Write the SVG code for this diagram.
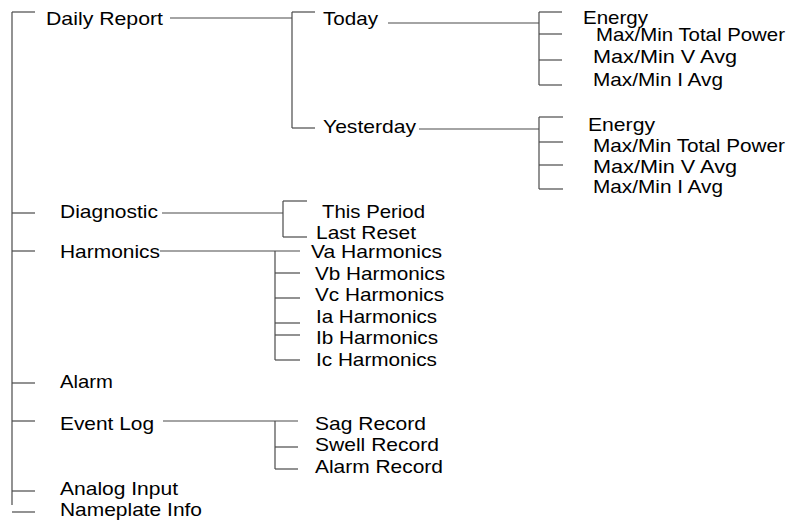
<svg xmlns="http://www.w3.org/2000/svg" width="797" height="526" viewBox="0 0 797 526">
<style>
text{font-family:"Liberation Sans",Arial,sans-serif;font-size:18.5px;fill:#000}
.c line{stroke:#4a4a4a;stroke-width:1.2;fill:none}
</style>
<rect width="797" height="526" fill="#fff"/>
<g class="c" id="connectors">
<line x1="12" y1="12" x2="12" y2="505"/>
<line x1="12" y1="12" x2="35" y2="12"/>
<line x1="12" y1="213" x2="35" y2="213"/>
<line x1="12" y1="251" x2="35" y2="251"/>
<line x1="12" y1="383" x2="35" y2="383"/>
<line x1="12" y1="421" x2="35" y2="421"/>
<line x1="12" y1="491" x2="35" y2="491"/>
<line x1="12" y1="512" x2="35" y2="512"/>
<line x1="170" y1="18" x2="292" y2="18"/>
<line x1="292" y1="12" x2="292" y2="128"/>
<line x1="292" y1="12" x2="315" y2="12"/>
<line x1="292" y1="128" x2="315" y2="128"/>
<line x1="388" y1="23" x2="539" y2="23"/>
<line x1="539" y1="12" x2="539" y2="85"/>
<line x1="539" y1="12" x2="562" y2="12"/>
<line x1="539" y1="34" x2="562" y2="34"/>
<line x1="539" y1="60" x2="562" y2="60"/>
<line x1="539" y1="85" x2="562" y2="85"/>
<line x1="419" y1="129" x2="539" y2="129"/>
<line x1="539" y1="117" x2="539" y2="189"/>
<line x1="539" y1="117" x2="563" y2="117"/>
<line x1="539" y1="142" x2="563" y2="142"/>
<line x1="539" y1="165" x2="563" y2="165"/>
<line x1="539" y1="189" x2="563" y2="189"/>
<line x1="162" y1="213" x2="283" y2="213"/>
<line x1="283" y1="201" x2="283" y2="237"/>
<line x1="283" y1="201" x2="307" y2="201"/>
<line x1="283" y1="237" x2="307" y2="237"/>
<line x1="160" y1="251" x2="300" y2="251"/>
<line x1="275" y1="251" x2="275" y2="360"/>
<line x1="275" y1="273" x2="300" y2="273"/>
<line x1="275" y1="298" x2="300" y2="298"/>
<line x1="275" y1="323" x2="300" y2="323"/>
<line x1="275" y1="335" x2="300" y2="335"/>
<line x1="275" y1="360" x2="300" y2="360"/>
<line x1="163" y1="421" x2="298" y2="421"/>
<line x1="275" y1="421" x2="275" y2="469"/>
<line x1="275" y1="447" x2="298" y2="447"/>
<line x1="275" y1="469" x2="298" y2="469"/>
</g>
<g id="daily-report"><text x="46" y="25" textLength="117" lengthAdjust="spacingAndGlyphs">Daily Report</text></g>
<g id="today"><text x="323" y="25" textLength="55" lengthAdjust="spacingAndGlyphs">Today</text></g>
<g id="today-energy"><text x="583" y="24" textLength="65" lengthAdjust="spacingAndGlyphs">Energy</text></g>
<g id="today-power"><text x="596" y="41" textLength="189" lengthAdjust="spacingAndGlyphs">Max/Min Total Power</text></g>
<g id="today-v"><text x="593" y="63" textLength="144" lengthAdjust="spacingAndGlyphs">Max/Min V Avg</text></g>
<g id="today-i"><text x="593" y="86" textLength="130" lengthAdjust="spacingAndGlyphs">Max/Min I Avg</text></g>
<g id="yesterday"><text x="323" y="133" textLength="93" lengthAdjust="spacingAndGlyphs">Yesterday</text></g>
<g id="yest-energy"><text x="588" y="131" textLength="67" lengthAdjust="spacingAndGlyphs">Energy</text></g>
<g id="yest-power"><text x="593" y="151.5" textLength="192" lengthAdjust="spacingAndGlyphs">Max/Min Total Power</text></g>
<g id="yest-v"><text x="593" y="172.5" textLength="144" lengthAdjust="spacingAndGlyphs">Max/Min V Avg</text></g>
<g id="yest-i"><text x="593" y="193" textLength="130" lengthAdjust="spacingAndGlyphs">Max/Min I Avg</text></g>
<g id="diagnostic"><text x="60" y="218" textLength="98" lengthAdjust="spacingAndGlyphs">Diagnostic</text></g>
<g id="this-period"><text x="322" y="218" textLength="103" lengthAdjust="spacingAndGlyphs">This Period</text></g>
<g id="last-reset"><text x="316" y="239" textLength="100" lengthAdjust="spacingAndGlyphs">Last Reset</text></g>
<g id="harmonics"><text x="60" y="258" textLength="100" lengthAdjust="spacingAndGlyphs">Harmonics</text></g>
<g id="va"><text x="311" y="258" textLength="131" lengthAdjust="spacingAndGlyphs">Va Harmonics</text></g>
<g id="vb"><text x="315" y="279.5" textLength="130" lengthAdjust="spacingAndGlyphs">Vb Harmonics</text></g>
<g id="vc"><text x="315" y="301" textLength="129" lengthAdjust="spacingAndGlyphs">Vc Harmonics</text></g>
<g id="ia"><text x="316" y="322.5" textLength="121" lengthAdjust="spacingAndGlyphs">Ia Harmonics</text></g>
<g id="ib"><text x="316" y="344" textLength="122" lengthAdjust="spacingAndGlyphs">Ib Harmonics</text></g>
<g id="ic"><text x="316" y="365.5" textLength="121" lengthAdjust="spacingAndGlyphs">Ic Harmonics</text></g>
<g id="alarm"><text x="60" y="388" textLength="53" lengthAdjust="spacingAndGlyphs">Alarm</text></g>
<g id="event-log"><text x="60" y="430" textLength="94" lengthAdjust="spacingAndGlyphs">Event Log</text></g>
<g id="sag"><text x="315" y="430" textLength="111" lengthAdjust="spacingAndGlyphs">Sag Record</text></g>
<g id="swell"><text x="315" y="451" textLength="124" lengthAdjust="spacingAndGlyphs">Swell Record</text></g>
<g id="alarm-record"><text x="315" y="472.5" textLength="128" lengthAdjust="spacingAndGlyphs">Alarm Record</text></g>
<g id="analog-input"><text x="60" y="495" textLength="118" lengthAdjust="spacingAndGlyphs">Analog Input</text></g>
<g id="nameplate"><text x="60" y="516" textLength="142" lengthAdjust="spacingAndGlyphs">Nameplate Info</text></g>
</svg>
